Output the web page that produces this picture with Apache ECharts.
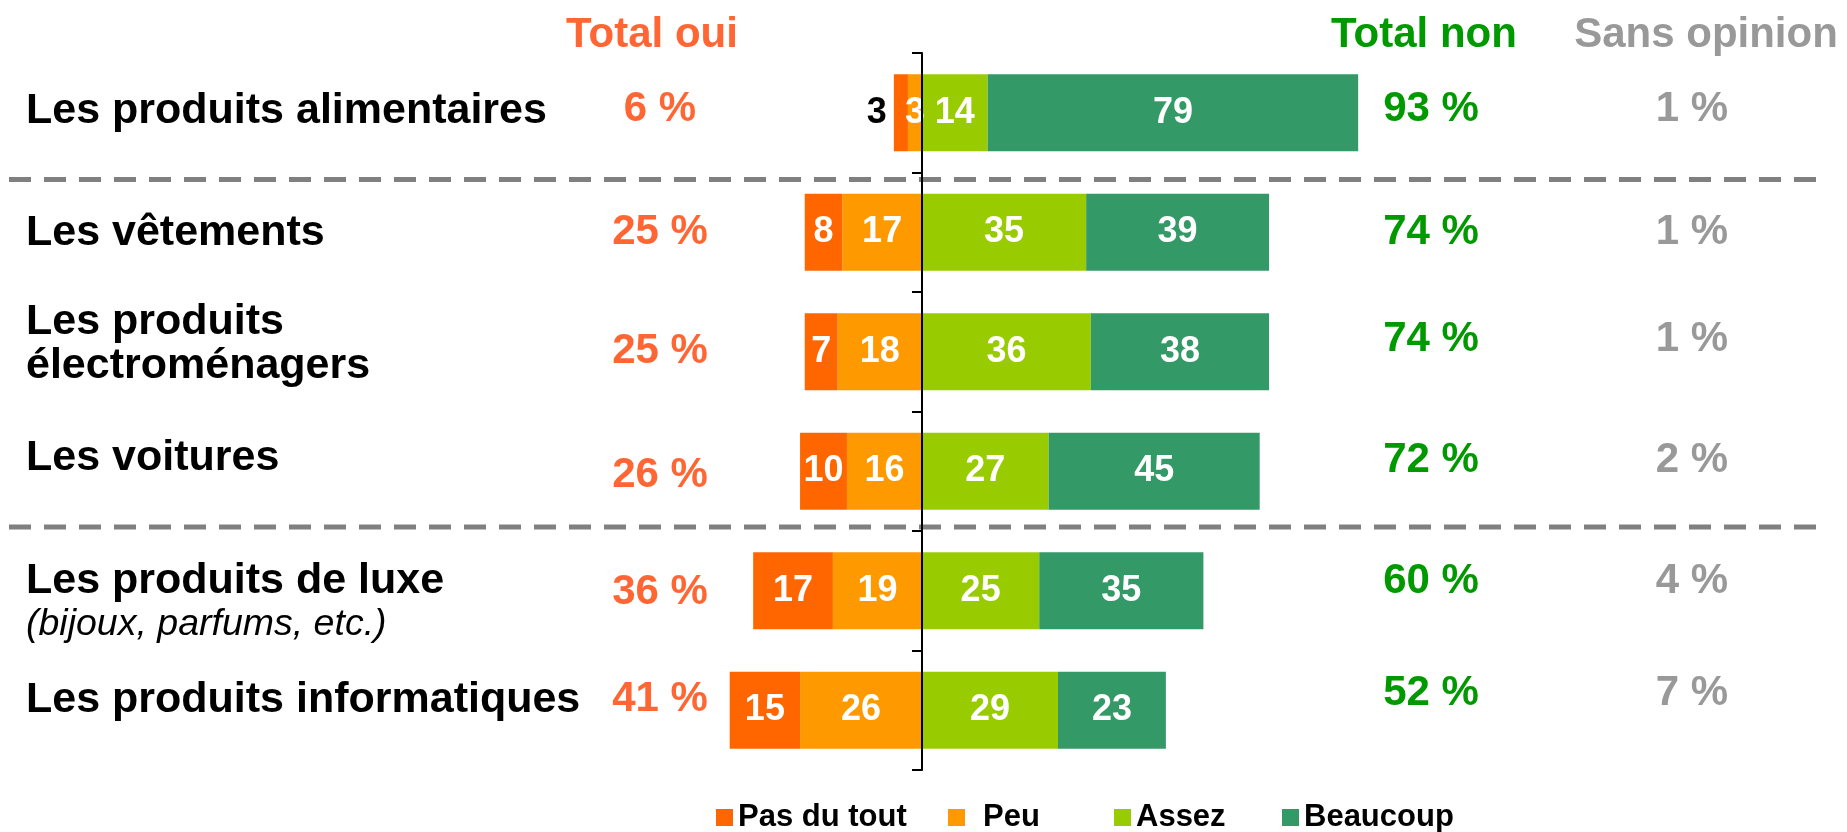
<!DOCTYPE html>
<html>
<head>
<meta charset="utf-8">
<script src="https://cdn.jsdelivr.net/npm/echarts@6/dist/echarts.min.js"></script>
<style>
  html, body { margin: 0; padding: 0; background: #fff; }
  #chart { width: 1847px; height: 832px; }
</style>
</head>
<body>
<div id="chart"></div>
<script>
// données
const categories = ['Les produits alimentaires', 'Les vêtements', 'Les produits\nélectroménagers', 'Les voitures', 'Les produits de luxe', 'Les produits informatiques']
const notes = ['', '', '', '', '(bijoux, parfums, etc.)', '']
const pasDuTout = [3, 8, 7, 10, 17, 15]
const peu = [3, 17, 18, 16, 19, 26]
const assez = [14, 35, 36, 27, 25, 29]
const beaucoup = [79, 39, 38, 45, 35, 23]
const totalOui = [6, 25, 25, 26, 36, 41]
const totalNon = [93, 74, 74, 72, 60, 52]
const sansOpinion = [1, 1, 1, 2, 4, 7]
const headers = ['Total oui', 'Total non', 'Sans opinion']

const FONT = '"Liberation Sans", Arial, sans-serif'
const COLORS = { pas: '#FF6600', peu: '#FF9900', assez: '#99CC00', beaucoup: '#339966' }
const C_OUI = '#FF6633'
const C_NON = '#009900'
const C_SANS = '#999999'

// petits décalages verticaux des textes (px)
const nameDy = [-2, 1, -8, -13, 12, -10]
const ouiDy = [-3, 0, 0, 4, 2, -11]
const nonDy = [-3, 0, -12, -11, -9, -17]
const separators = { 0: 7, 3: -4 }

const COL_NAME = 26
const COL_OUI = 660
const COL_NON = 1431
const COL_SANS = 1692

const barLabel = {
  show: true,
  position: 'inside',
  color: '#fff',
  fontSize: 36,
  fontWeight: 'bold',
  fontFamily: FONT,
  formatter: p => Math.abs(p.value),
}

const negative = arr => arr.map(v => -v)

const pasData = negative(pasDuTout).map((v, i) => i === 0
  ? { value: v, label: { position: 'left', distance: 7, color: '#000' } }
  : v)

const chart = echarts.init(document.getElementById('chart'))

const textRows = categories.map((c, i) => [0, i])

function renderRow(params, api) {
  const i = api.value(1)
  const y = api.coord([0, i])[1]
  const band = api.size([0, 1])[1]
  const children = []
  let nameText
  if (notes[i]) {
    nameText = '{a|' + categories[i] + '}\n{b|' + notes[i] + '}'
  } else {
    nameText = categories[i].split('\n').map(s => '{a|' + s + '}').join('\n')
  }
  children.push({
    type: 'text', x: COL_NAME, y: y + nameDy[i],
    style: {
      text: nameText, align: 'left', verticalAlign: 'middle',
      rich: {
        a: { fontSize: 43, fontWeight: 'bold', fontFamily: FONT, fill: '#000', lineHeight: 44 },
        b: { fontSize: 37.5, fontStyle: 'italic', fontFamily: FONT, fill: '#000', lineHeight: 44 },
      },
    },
  })
  const col = (x, dy, txt, color) => ({
    type: 'text', x, y: y + dy,
    style: { text: txt, align: 'center', verticalAlign: 'middle', font: 'bold 42px ' + FONT, fill: color },
  })
  children.push(col(COL_OUI, ouiDy[i], totalOui[i] + ' %', C_OUI))
  children.push(col(COL_NON, nonDy[i], totalNon[i] + ' %', C_NON))
  children.push(col(COL_SANS, nonDy[i], sansOpinion[i] + ' %', C_SANS))
  if (separators[i] !== undefined) {
    const sy = y + band / 2 + separators[i]
    children.push({
      type: 'line',
      shape: { x1: 9, y1: sy, x2: 1826, y2: sy },
      style: { stroke: '#808080', lineWidth: 5, lineDash: [22, 13] },
    })
  }
  return { type: 'group', children }
}

const legendBase = {
  top: 802,
  padding: 0,
  itemWidth: 17,
  itemHeight: 17,
  icon: 'rect',
  textStyle: { fontSize: 31, fontWeight: 'bold', fontFamily: FONT, color: '#000' },
}

const option = {
  animation: false,
  grid: { left: 453, width: 938, top: 53, height: 717 },
  xAxis: { type: 'value', min: -100, max: 100, show: false },
  yAxis: {
    type: 'category',
    data: categories,
    inverse: true,
    z: 10,
    axisLine: { onZero: true, lineStyle: { color: '#000', width: 2 } },
    axisTick: { show: true, length: 10, lineStyle: { color: '#000', width: 2 } },
    axisLabel: { show: false },
    splitLine: { show: false },
  },
  legend: [
    Object.assign({}, legendBase, { left: 716, data: ['Pas du tout'] }),
    Object.assign({}, legendBase, { left: 948, data: ['Peu'], textStyle: Object.assign({}, legendBase.textStyle, { padding: [0, 0, 0, 13] }) }),
    Object.assign({}, legendBase, { left: 1114, data: ['Assez'] }),
    Object.assign({}, legendBase, { left: 1282, data: ['Beaucoup'] }),
  ],
  graphic: [
    { type: 'text', x: 652, y: 35, style: { text: headers[0], align: 'center', verticalAlign: 'middle', font: 'bold 42px ' + FONT, fill: C_OUI } },
    { type: 'text', x: 1424, y: 35, style: { text: headers[1], align: 'center', verticalAlign: 'middle', font: 'bold 42px ' + FONT, fill: C_NON } },
    { type: 'text', x: 1706, y: 35, style: { text: headers[2], align: 'center', verticalAlign: 'middle', font: 'bold 42px ' + FONT, fill: C_SANS } },
  ],
  series: [
    { name: 'Peu', type: 'bar', stack: 'total', barWidth: 77, data: negative(peu), itemStyle: { color: COLORS.peu }, label: barLabel },
    { name: 'Pas du tout', type: 'bar', stack: 'total', barWidth: 77, data: pasData, itemStyle: { color: COLORS.pas }, label: barLabel },
    { name: 'Assez', type: 'bar', stack: 'total', barWidth: 77, data: assez, itemStyle: { color: COLORS.assez }, label: barLabel },
    { name: 'Beaucoup', type: 'bar', stack: 'total', barWidth: 77, data: beaucoup, itemStyle: { color: COLORS.beaucoup }, label: barLabel },
    {
      name: 'textes',
      type: 'custom',
      renderItem: renderRow,
      data: textRows,
      encode: { x: 0, y: 1 },
      clip: false,
      silent: true,
      z: 1,
    },
  ],
}

chart.setOption(option)
</script>
</body>
</html>
